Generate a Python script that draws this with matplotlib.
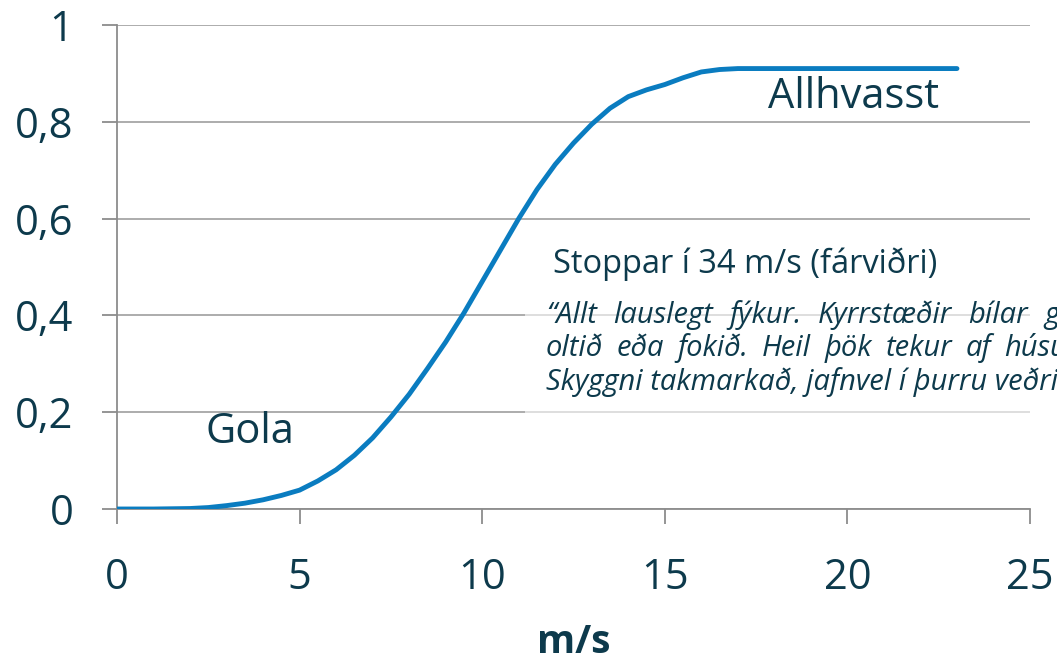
import numpy as np
import matplotlib
matplotlib.use("Agg")
import matplotlib.pyplot as plt
from matplotlib.patches import Rectangle

# Gögn lesin af myndinni (vindhraði m/s -> gildi)
vindur = [0, 0.5, 1, 1.5, 2, 2.5, 3, 3.5, 4, 4.5, 5, 5.5, 6, 6.5, 7, 7.5,
          8, 8.5, 9, 9.5, 10, 10.5, 11, 11.5, 12, 12.5, 13, 13.5, 14, 14.5,
          15, 15.5, 16, 16.5, 17, 18, 19, 20, 21, 22, 23]
gildi = [0, 0, 0, 0.0005, 0.001, 0.003, 0.007, 0.012, 0.019, 0.028, 0.039,
         0.058, 0.081, 0.111, 0.147, 0.19, 0.237, 0.29, 0.345, 0.405,
         0.47, 0.535, 0.60, 0.66, 0.712, 0.756, 0.795, 0.828, 0.852, 0.866,
         0.877, 0.891, 0.903, 0.908, 0.91, 0.91, 0.91, 0.91, 0.91, 0.91, 0.91]

x_ticks = [0, 5, 10, 15, 20, 25]
y_ticks = [0, 0.2, 0.4, 0.6, 0.8, 1]
y_labels = ["0", "0,2", "0,4", "0,6", "0,8", "1"]

lina1 = ["\u201cAllt", "lauslegt", "fýkur.", "Kyrrstæðir", "bílar", "geta"]
lina2 = ["oltið", "eða", "fokið.", "Heil", "þök", "tekur", "af", "húsum."]
lina3 = "Skyggni takmarkað, jafnvel í þurru veðri.\u201d"

W, H = 1057, 661
LETUR = "Open Sans"
TEXTI = "#0d3a4c"
BLATT = "#0a7cc0"

plt.rcParams['font.family'] = [LETUR, 'DejaVu Sans']

fig = plt.figure(figsize=(W / 100, H / 100), dpi=100)
ax = fig.add_axes([117 / W, 1 - 509 / H, (1030 - 117) / W, (509 - 25) / H])

ax.plot(vindur, gildi, color=BLATT, lw=3.5, solid_capstyle='round',
        solid_joinstyle='round', zorder=3)

ax.set_xlim(0, 25)
ax.set_ylim(0, 1)
ax.set_xticks(x_ticks)
ax.set_yticks(y_ticks)
ax.set_yticklabels(y_labels)
ax.grid(axis='y', color='#a6a6a6', lw=1.3)
ax.set_axisbelow(True)
for s in ['top', 'right']:
    ax.spines[s].set_visible(False)
for s in ['left', 'bottom']:
    ax.spines[s].set_color('#8c8c8c')
    ax.spines[s].set_linewidth(1.3)
ax.tick_params(axis='both', direction='out', length=10.5, width=1.3,
               color='#8c8c8c', labelsize=30, labelcolor=TEXTI)
ax.tick_params(axis='x', pad=24)
ax.tick_params(axis='y', pad=21)

ax.text(2.41, 0.136, "Gola", fontsize=30, color=TEXTI, va='baseline')
ax.text(17.83, 0.8285, "Allhvasst", fontsize=30, color=TEXTI, va='baseline')

fig.text(573.5 / W, 1 - 653 / H, "m/s", fontsize=28, fontweight='bold',
         color=TEXTI, ha='center', va='baseline')

# hálfgagnsær hvítur kassi undir textanum
fig.patches.append(Rectangle((525 / W, 1 - 420 / H), 1, (420 - 235) / H,
                             transform=fig.transFigure, facecolor='white',
                             alpha=0.6, edgecolor='none', zorder=1))

fig.text(553 / W, 1 - 273 / H, "Stoppar í 34 m/s (fárviðri)", fontsize=23.5,
         color=TEXTI, va='baseline', zorder=3)

fig.canvas.draw()
r = fig.canvas.get_renderer()


def jafna(ord, y_px, x0, x1):
    # jafnaður texti: dreifir orðunum yfir alla breiddina
    hlutir = [fig.text(0, 0, o, fontsize=21, style='italic', color=TEXTI,
                       va='baseline', zorder=3) for o in ord]
    breidd = [h.get_window_extent(r).width for h in hlutir]
    bil = (x1 - x0 - sum(breidd)) / (len(ord) - 1)
    x = x0
    for h, b in zip(hlutir, breidd):
        h.set_position((x / W, 1 - y_px / H))
        x += b + bil


jafna(lina1, 323, 546, 1100)
jafna(lina2, 356, 546, 1100)
fig.text(546 / W, 1 - 390 / H, lina3, fontsize=21, style='italic',
         color=TEXTI, va='baseline', zorder=3)

fig.savefig("out.png", dpi=100)
